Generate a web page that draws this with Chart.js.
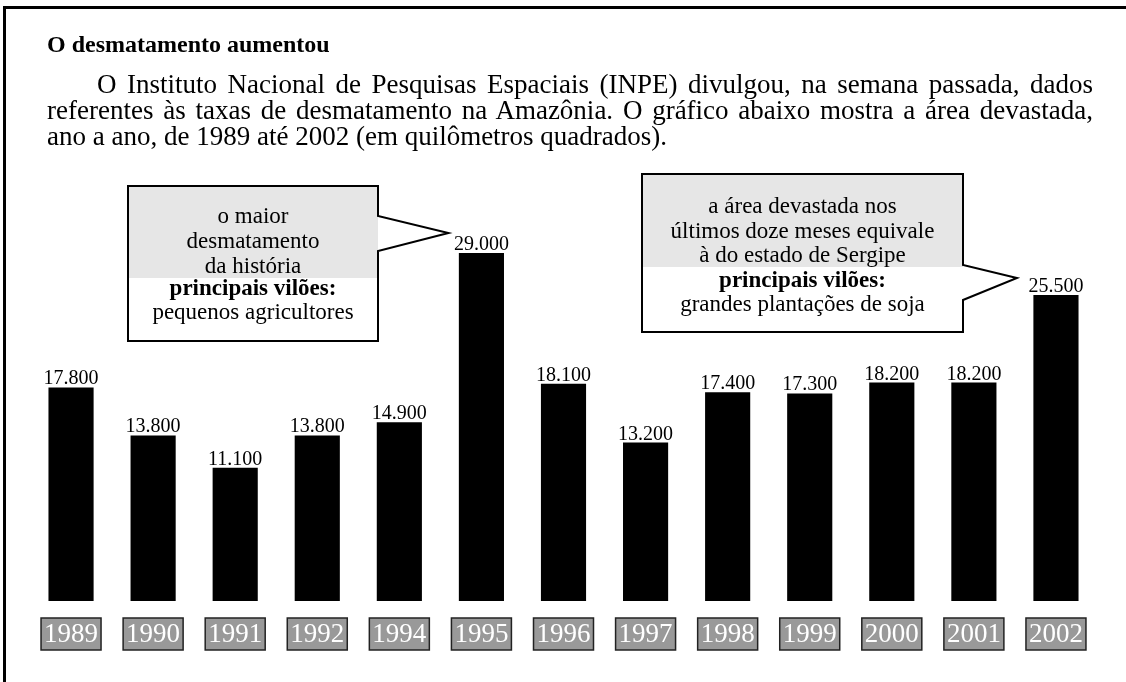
<!DOCTYPE html>
<html>
<head>
<meta charset="utf-8">
<script src="https://cdn.jsdelivr.net/npm/chart.js@4"></script>
<style>
    body { margin: 0; background: #fff; }
    #page { position: relative; width: 1126px; height: 682px; overflow: hidden; font-family: "Liberation Serif", "Times New Roman", serif; color: #000; }
    #frame { position: absolute; left: 3px; top: 6px; width: 1200px; height: 800px; border-top: 3px solid #000; border-left: 3px solid #000; }
    #chart { position: absolute; left: 0; top: 0; }
    .title { position: absolute; left: 47px; top: 30px; font-size: 24px; line-height: 28px; font-weight: bold; }
    .para { position: absolute; left: 47px; top: 71px; width: 1046px; font-size: 27px; line-height: 26px; }
    .para div { white-space: nowrap; }
    .para .just { text-align: justify; text-align-last: justify; white-space: normal; }
</style>
</head>
<body>
<div id="page">
    <div id="frame"></div>
    <canvas id="chart" width="1126" height="682"></canvas>
    <div class="title">O desmatamento aumentou</div>
    <div class="para">
        <div class="just" style="text-indent: 50px;">O Instituto Nacional de Pesquisas Espaciais (INPE) divulgou, na semana passada, dados</div>
        <div class="just">referentes às taxas de desmatamento na Amazônia. O gráfico abaixo mostra a área devastada,</div>
        <div>ano a ano, de 1989 até 2002 (em quilômetros quadrados).</div>
    </div>
</div>
<script>
// Data
const years = ['1989', '1990', '1991', '1992', '1994', '1995', '1996', '1997', '1998', '1999', '2000', '2001', '2002'];
const areaKm2 = [17800, 13800, 11100, 13800, 14900, 29000, 18100, 13200, 17400, 17300, 18200, 18200, 25500];

// Callout texts
const callout1Shaded = ['o maior', 'desmatamento', 'da história'];
const callout1Bold = 'principais vilões:';
const callout1Plain = 'pequenos agricultores';
const callout2Shaded = ['a área devastada nos', 'últimos doze meses equivale', 'à do estado de Sergipe'];
const callout2Bold = 'principais vilões:';
const callout2Plain = 'grandes plantações de soja';

const SERIF = '"Liberation Serif", "Times New Roman", serif';

// 17800 -> "17.800"
function formatNumber(n) {
    return String(n).replace(/\B(?=(\d{3})+(?!\d))/g, '.');
}

// Draw one speech-bubble box pointing at a bar label
function drawCallout(ctx, box, tip, joinTop, joinBottom, shaded, bold, plain, lineY) {
    const right = box.x + box.w;
    const bottom = box.y + box.h;

    ctx.save();
    ctx.fillStyle = '#fff';
    ctx.fillRect(box.x, box.y, box.w, box.h);
    ctx.fillStyle = '#e6e6e6';
    ctx.fillRect(box.x, box.y, box.w, box.shade);

    // pointer
    ctx.beginPath();
    ctx.moveTo(right, joinTop);
    ctx.lineTo(tip.x, tip.y);
    ctx.lineTo(right, joinBottom);
    ctx.closePath();
    ctx.fillStyle = '#fff';
    ctx.fill();

    ctx.strokeStyle = '#000';
    ctx.lineWidth = 2;
    ctx.lineJoin = 'miter';
    ctx.beginPath();
    ctx.moveTo(right, joinTop);
    ctx.lineTo(right, box.y);
    ctx.lineTo(box.x, box.y);
    ctx.lineTo(box.x, bottom);
    ctx.lineTo(right, bottom);
    ctx.lineTo(right, joinBottom);
    ctx.lineTo(tip.x, tip.y);
    ctx.closePath();
    ctx.stroke();

    // text
    const cx = box.x + box.w / 2;
    ctx.fillStyle = '#000';
    ctx.textAlign = 'center';
    ctx.textBaseline = 'middle';
    ctx.font = '23px ' + SERIF;
    shaded.forEach((line, i) => ctx.fillText(line, cx, box.y + lineY[i]));
    ctx.font = 'bold 23px ' + SERIF;
    ctx.fillText(bold, cx, box.y + lineY[3]);
    ctx.font = '23px ' + SERIF;
    ctx.fillText(plain, cx, box.y + lineY[4]);
    ctx.restore();
}

const decorPlugin = {
    id: 'decor',
    afterDatasetsDraw(chart) {
        const ctx = chart.ctx;
        const meta = chart.getDatasetMeta(0);
        const xScale = chart.scales.x;

        // value labels above bars
        ctx.save();
        ctx.fillStyle = '#000';
        ctx.font = '20px ' + SERIF;
        ctx.textAlign = 'center';
        ctx.textBaseline = 'alphabetic';
        meta.data.forEach((bar, i) => {
            ctx.fillText(formatNumber(areaKm2[i]), bar.x, bar.y - 3);
        });
        ctx.restore();

        // year boxes under the bars
        ctx.save();
        years.forEach((year, i) => {
            const x = xScale.getPixelForValue(i);
            ctx.fillStyle = '#999999';
            ctx.fillRect(x - 30, 618, 60, 32);
            ctx.strokeStyle = '#222';
            ctx.lineWidth = 1.5;
            ctx.strokeRect(x - 30, 618, 60, 32);
            ctx.fillStyle = '#fff';
            ctx.font = '27px ' + SERIF;
            ctx.textAlign = 'center';
            ctx.textBaseline = 'middle';
            ctx.fillText(year, x, 635);
        });
        ctx.restore();

        // callouts pointing to the 1995 and 2002 labels
        const b95 = meta.data[years.indexOf('1995')];
        const b02 = meta.data[years.indexOf('2002')];
        drawCallout(ctx, { x: 128, y: 186, w: 250, h: 155, shade: 92 },
            { x: b95.x - 33, y: b95.y - 20 }, 216, 251,
            callout1Shaded, callout1Bold, callout1Plain, [31, 56, 81, 103, 127]);
        drawCallout(ctx, { x: 642, y: 174, w: 321, h: 158, shade: 93 },
            { x: b02.x - 39, y: b02.y - 17 }, 265, 300,
            callout2Shaded, callout2Bold, callout2Plain, [33, 58, 82, 107, 131]);
    }
};

new Chart(document.getElementById('chart'), {
    type: 'bar',
    data: {
        labels: years,
        datasets: [{
            data: areaKm2,
            backgroundColor: '#000',
            borderWidth: 0,
            barPercentage: 0.55,
            categoryPercentage: 1.0
        }]
    },
    options: {
        responsive: false,
        animation: false,
        layout: { padding: { left: 30, right: 29, top: 241, bottom: 81 } },
        plugins: {
            legend: { display: false },
            tooltip: { enabled: false }
        },
        scales: {
            x: { display: false },
            y: { display: false, min: 0, max: 30000 }
        }
    },
    plugins: [decorPlugin]
});
</script>
</body>
</html>
